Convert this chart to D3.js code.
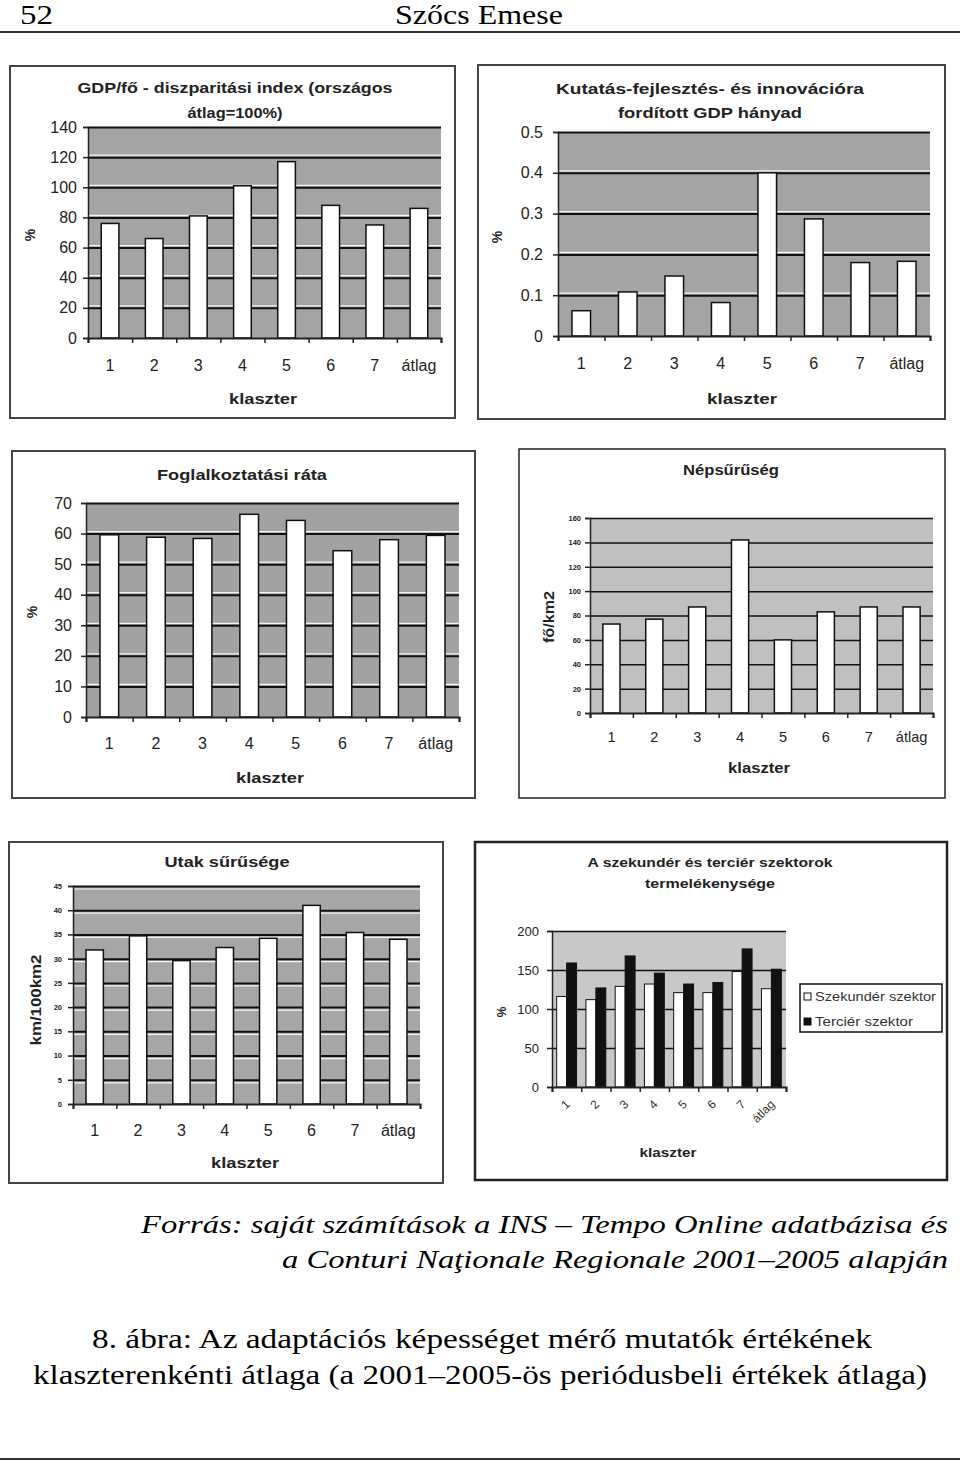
<!DOCTYPE html>
<html>
<head>
<meta charset="utf-8">
<script src="https://cdn.jsdelivr.net/npm/d3@7"></script>
<style>
  body { margin: 0; background: #fff; }
  svg { display: block; }
</style>
</head>
<body>
<script>
// ---------------- DATA ----------------
const clusters = ["1", "2", "3", "4", "5", "6", "7", "átlag"];

const gdpValues = [76, 66, 81, 101, 117, 88, 75, 86];
const gdpTicks = [0, 20, 40, 60, 80, 100, 120, 140];
const gdpTickLabels = ["0", "20", "40", "60", "80", "100", "120", "140"];

const rdValues = [0.062, 0.108, 0.147, 0.082, 0.40, 0.287, 0.18, 0.183];
const rdTicks = [0, 0.1, 0.2, 0.3, 0.4, 0.5];
const rdTickLabels = ["0", "0.1", "0.2", "0.3", "0.4", "0.5"];

const employmentValues = [59.6, 58.8, 58.4, 66.3, 64.3, 54.4, 58.0, 59.4];
const employmentTicks = [0, 10, 20, 30, 40, 50, 60, 70];
const employmentTickLabels = ["0", "10", "20", "30", "40", "50", "60", "70"];

const densityValues = [73, 77, 87, 142, 60, 83, 87, 87];
const densityTicks = [0, 20, 40, 60, 80, 100, 120, 140, 160];
const densityTickLabels = ["0", "20", "40", "60", "80", "100", "120", "140", "160"];

const roadValues = [31.8, 34.7, 29.6, 32.3, 34.2, 41.0, 35.4, 34.0];
const roadTicks = [0, 5, 10, 15, 20, 25, 30, 35, 40, 45];
const roadTickLabels = ["0", "5", "10", "15", "20", "25", "30", "35", "40", "45"];

const seriesNames = ["Szekundér szektor", "Terciér szektor"];
const secondaryValues = [116, 112, 129, 132, 121, 121, 148, 126];
const tertiaryValues = [159, 127, 168, 146, 132, 134, 177, 151];
const prodTicks = [0, 50, 100, 150, 200];
const prodTickLabels = ["0", "50", "100", "150", "200"];

// ---------------- PAGE ----------------
const W = 960, H = 1462;
const svg = d3.select("body").append("svg").attr("width", W).attr("height", H);
const SANS = "'Liberation Sans', Arial, sans-serif";
const SERIF = "'Liberation Serif', 'DejaVu Serif', serif";

function txt(g, s, x, y, o = {}) {
  const t = g.append("text").attr("x", x).attr("y", y).text(s)
    .attr("font-family", o.family || SANS)
    .attr("font-size", o.size || 14)
    .attr("font-weight", o.weight || "normal")
    .attr("font-style", o.style || "normal")
    .attr("fill", o.fill || "#111")
    .attr("text-anchor", o.anchor || "middle")
    .attr("dominant-baseline", o.baseline || "auto");
  if (o.len) t.attr("textLength", o.len).attr("lengthAdjust", "spacingAndGlyphs");
  if (o.rotate) t.attr("transform", `rotate(${o.rotate},${x},${y})`);
  return t;
}

// header
txt(svg, "52", 20, 24, { family: SERIF, size: 27, anchor: "start", len: 33, fill: "#000" });
txt(svg, "Szőcs Emese", 479, 24, { family: SERIF, size: 27, len: 168, fill: "#000" });
svg.append("line").attr("x1", 0).attr("x2", 960).attr("y1", 32).attr("y2", 32)
  .attr("stroke", "#333").attr("stroke-width", 2);

// footer
txt(svg, "Forrás: saját számítások a INS – Tempo Online adatbázisa és", 948, 1233,
  { family: SERIF, size: 26, style: "italic", anchor: "end", len: 807, fill: "#000" });
txt(svg, "a Conturi Naţionale Regionale 2001–2005 alapján", 948, 1268,
  { family: SERIF, size: 26, style: "italic", anchor: "end", len: 666, fill: "#000" });
txt(svg, "8. ábra: Az adaptációs képességet mérő mutatók értékének", 482, 1348,
  { family: SERIF, size: 27, len: 780, fill: "#000" });
txt(svg, "klaszterenkénti átlaga (a 2001–2005-ös periódusbeli értékek átlaga)", 480, 1384,
  { family: SERIF, size: 27, len: 894, fill: "#000" });
svg.append("line").attr("x1", 0).attr("x2", 960).attr("y1", 1459).attr("y2", 1459)
  .attr("stroke", "#333").attr("stroke-width", 2);

// ---------------- CHART ----------------
function drawChart(cfg) {
  const g = svg.append("g");
  const [fx0, fy0, fx1, fy1] = cfg.frame;
  const [pl, pt, pr, pb] = cfg.plot;

  g.append("rect").attr("x", fx0).attr("y", fy0).attr("width", fx1 - fx0).attr("height", fy1 - fy0)
    .attr("fill", "#fff").attr("stroke", cfg.frameColor || "#444").attr("stroke-width", cfg.frameWidth || 2);

  const y = d3.scaleLinear().domain([0, cfg.ticks[cfg.ticks.length - 1]]).range([pb, pt]);
  const xEdge = d3.scaleLinear().domain([0, clusters.length]).range([pl, pr]);
  const x = d3.scaleBand().domain(clusters).range([pl, pr])
    .paddingInner(cfg.padInner).paddingOuter(cfg.padOuter);

  // plot background
  g.append("rect").attr("x", pl).attr("y", pt).attr("width", pr - pl).attr("height", pb - pt)
    .attr("fill", cfg.bg);

  // white highlight lines beside gridlines (scan look)
  if (cfg.whiteLines) {
    g.append("g")
      .call(d3.axisLeft(y).tickValues(cfg.ticks.slice(1)).tickSize(-(pr - pl)).tickFormat(""))
      .attr("transform", `translate(${pl},${cfg.whiteOffset})`)
      .call(a => a.select(".domain").remove())
      .call(a => a.selectAll("line").attr("stroke", "#f4f4f4").attr("stroke-width", 1.2));
  }
  // black gridlines
  g.append("g").attr("transform", `translate(${pl},0)`)
    .call(d3.axisLeft(y).tickValues(cfg.ticks.slice(1)).tickSize(-(pr - pl)).tickFormat(""))
    .call(a => a.select(".domain").remove())
    .call(a => a.selectAll("line").attr("stroke", "#111").attr("stroke-width", cfg.gridWidth || 2));

  // bars
  if (cfg.series) {
    const inner = d3.scaleBand().domain(d3.range(cfg.series.length)).range([0, x.bandwidth()]);
    cfg.series.forEach((vals, si) => {
      g.append("g").selectAll("rect").data(vals).join("rect")
        .attr("x", (d, i) => x(clusters[i]) + inner(si))
        .attr("width", inner.bandwidth())
        .attr("y", d => y(d))
        .attr("height", d => pb - y(d))
        .attr("fill", cfg.seriesFill[si])
        .attr("stroke", "#111").attr("stroke-width", 1);
    });
  } else {
    g.append("g").selectAll("rect").data(cfg.values).join("rect")
      .attr("x", (d, i) => x(clusters[i]))
      .attr("width", x.bandwidth())
      .attr("y", d => y(d))
      .attr("height", d => pb - y(d))
      .attr("fill", "#fff")
      .attr("stroke", "#111").attr("stroke-width", 1.5);
  }

  // y axis
  g.append("g").attr("transform", `translate(${pl},0)`)
    .call(d3.axisLeft(y).tickValues(cfg.ticks).tickSize(5).tickPadding(cfg.tickPad || 6)
      .tickFormat((d, i) => cfg.tickLabels[i]))
    .call(a => a.select(".domain").attr("stroke", "#222").attr("stroke-width", 1.5))
    .call(a => a.selectAll("line").attr("stroke", "#222").attr("stroke-width", 1.5))
    .call(a => a.selectAll("text").attr("font-family", SANS).attr("font-size", cfg.tickSize)
      .attr("font-weight", cfg.tickWeight || "normal").attr("fill", "#222"));

  // x axis line + boundary ticks
  g.append("g").attr("transform", `translate(0,${pb})`)
    .call(d3.axisBottom(xEdge).tickValues(d3.range(clusters.length + 1)).tickSize(5).tickFormat(""))
    .call(a => a.select(".domain").attr("stroke", "#222").attr("stroke-width", 2))
    .call(a => a.selectAll("line").attr("stroke", "#222").attr("stroke-width", 1.5));

  // x category labels
  const xl = g.append("g").attr("transform", `translate(0,${pb})`)
    .call(d3.axisBottom(x).tickSize(0).tickPadding(0))
    .call(a => a.select(".domain").remove());
  if (cfg.rotateLabels) {
    xl.selectAll(".tick text")
      .attr("font-family", SANS).attr("font-size", cfg.xLabelSize).attr("fill", "#333")
      .attr("text-anchor", "end").attr("dy", 0).attr("y", 0)
      .attr("transform", `translate(4,${cfg.xLabelDy}) rotate(-45)`);
  } else {
    xl.selectAll(".tick text")
      .attr("font-family", SANS).attr("font-size", cfg.xLabelSize).attr("fill", "#222")
      .attr("y", cfg.xLabelY - pb).attr("dy", "0.35em");
  }

  // titles
  cfg.titles.forEach(t => txt(g, t.text, cfg.titleX, t.y,
    { size: cfg.titleSize, weight: "bold", baseline: "central", len: t.len, fill: "#222" }));
  // y label
  txt(g, cfg.yLabel, cfg.yLabelPos[0], cfg.yLabelPos[1],
    { size: cfg.yLabelSize, weight: "bold", baseline: "central", rotate: -90, len: cfg.yLabelLen, fill: "#222" });
  // x title
  txt(g, "klaszter", cfg.xTitle[0], cfg.xTitle[1],
    { size: cfg.xTitleSize, weight: "bold", baseline: "central", len: cfg.xTitleLen, fill: "#222" });

  // legend
  if (cfg.legend) {
    const [lx0, ly0, lx1, ly1] = cfg.legend;
    g.append("rect").attr("x", lx0).attr("y", ly0).attr("width", lx1 - lx0).attr("height", ly1 - ly0)
      .attr("fill", "#fff").attr("stroke", "#111").attr("stroke-width", 1.5);
    seriesNames.forEach((name, i) => {
      const cy = ly0 + 13 + i * 25;
      g.append("rect").attr("x", lx0 + 4).attr("y", cy - 4).attr("width", 7).attr("height", 7)
        .attr("fill", cfg.seriesFill[i]).attr("stroke", "#111").attr("stroke-width", 1);
      txt(g, name, lx0 + 15, cy, { size: 12.5, anchor: "start", baseline: "central", fill: "#333",
        len: i === 0 ? 121 : 98 });
    });
  }
}

// Chart 1: GDP/fő
drawChart({
  frame: [10, 66, 455, 418], plot: [88, 127, 441, 338],
  values: gdpValues, ticks: gdpTicks, tickLabels: gdpTickLabels,
  padInner: 0.6, padOuter: 0.3, bg: "#a4a4a4", whiteLines: true, whiteOffset: -2.5,
  tickSize: 16, xLabelSize: 16, xLabelY: 365,
  titles: [{ text: "GDP/fő - diszparitási index (országos", y: 88, len: 315 },
           { text: "átlag=100%)", y: 113, len: 95 }],
  titleX: 235, titleSize: 14,
  yLabel: "%", yLabelPos: [30, 235], yLabelSize: 14,
  xTitle: [263, 398], xTitleSize: 15, xTitleLen: 68
});

// Chart 2: K+F
drawChart({
  frame: [478, 65, 945, 419], plot: [558, 132, 930, 336],
  values: rdValues, ticks: rdTicks, tickLabels: rdTickLabels,
  padInner: 0.6, padOuter: 0.3, bg: "#a4a4a4", whiteLines: true, whiteOffset: -2.5,
  tickSize: 16, tickPad: 10, xLabelSize: 16, xLabelY: 363,
  titles: [{ text: "Kutatás-fejlesztés- és innovációra", y: 89, len: 308 },
           { text: "fordított GDP hányad", y: 113, len: 184 }],
  titleX: 710, titleSize: 14,
  yLabel: "%", yLabelPos: [497, 237], yLabelSize: 14,
  xTitle: [742, 398], xTitleSize: 15, xTitleLen: 70
});

// Chart 3: Foglalkoztatási ráta
drawChart({
  frame: [12, 451, 475, 798], plot: [86, 503, 459, 717],
  values: employmentValues, ticks: employmentTicks, tickLabels: employmentTickLabels,
  padInner: 0.6, padOuter: 0.3, bg: "#a2a2a2", whiteLines: true, whiteOffset: -2.5,
  tickSize: 16, tickPad: 9, xLabelSize: 16, xLabelY: 743,
  titles: [{ text: "Foglalkoztatási ráta", y: 475, len: 170 }],
  titleX: 242, titleSize: 14,
  yLabel: "%", yLabelPos: [32, 612], yLabelSize: 14,
  xTitle: [270, 777], xTitleSize: 15, xTitleLen: 68
});

// Chart 4: Népsűrűség
drawChart({
  frame: [519, 449, 945, 798], plot: [590, 518, 933, 713], frameWidth: 1.5, frameColor: "#222",
  values: densityValues, ticks: densityTicks, tickLabels: densityTickLabels,
  padInner: 0.6, padOuter: 0.3, bg: "#c0c0c0", whiteLines: false, gridWidth: 1.5,
  tickSize: 7.5, tickWeight: "bold", tickPad: 4, xLabelSize: 14.5, xLabelY: 737,
  titles: [{ text: "Népsűrűség", y: 470, len: 96 }],
  titleX: 731, titleSize: 14,
  yLabel: "fő/km2", yLabelPos: [548, 617], yLabelSize: 15, yLabelLen: 52,
  xTitle: [759, 767], xTitleSize: 15.5, xTitleLen: 62
});

// Chart 5: Utak sűrűsége
drawChart({
  frame: [9, 842, 443, 1183], plot: [73, 886, 420, 1104],
  values: roadValues, ticks: roadTicks, tickLabels: roadTickLabels,
  padInner: 0.6, padOuter: 0.3, bg: "#a6a6a6", whiteLines: true, whiteOffset: 2.5,
  tickSize: 7.5, tickWeight: "bold", tickPad: 6, xLabelSize: 16, xLabelY: 1130,
  titles: [{ text: "Utak sűrűsége", y: 862, len: 125 }],
  titleX: 227, titleSize: 14,
  yLabel: "km/100km2", yLabelPos: [35, 1000], yLabelSize: 15, yLabelLen: 91,
  xTitle: [245, 1162], xTitleSize: 15, xTitleLen: 68
});

// Chart 6: termelékenység
drawChart({
  frame: [475, 842, 947, 1180], plot: [552, 931, 786, 1087], frameWidth: 2.5, frameColor: "#222",
  series: [secondaryValues, tertiaryValues], seriesFill: ["#fff", "#111"],
  ticks: prodTicks, tickLabels: prodTickLabels,
  padInner: 0.32, padOuter: 0.16, bg: "#c8c8c8", whiteLines: false, gridWidth: 1.5,
  tickSize: 13, tickPad: 8, xLabelSize: 12, rotateLabels: true, xLabelDy: 18,
  titles: [{ text: "A szekundér és terciér szektorok", y: 862, len: 245 },
           { text: "termelékenysége", y: 883, len: 130 }],
  titleX: 710, titleSize: 13,
  yLabel: "%", yLabelPos: [502, 1012], yLabelSize: 12,
  xTitle: [668, 1152], xTitleSize: 13.5, xTitleLen: 57,
  legend: [800, 984, 942, 1032]
});
</script>
</body>
</html>
